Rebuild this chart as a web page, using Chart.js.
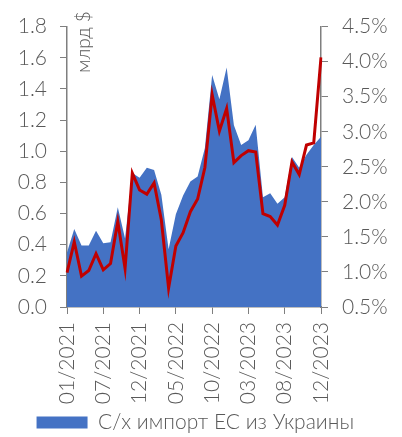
<!DOCTYPE html>
<html>
<head>
<meta charset="utf-8">
<script src="https://cdn.jsdelivr.net/npm/chart.js@4.4.1/dist/chart.umd.min.js"></script>
<style>
  body { margin: 0; background: #fff; }
  #wrap { width: 402px; height: 437px; }
</style>
</head>
<body>
<div id="wrap"><canvas id="chart" width="402" height="437"></canvas></div>
<script>
const months = [
  "01/2021", "02/2021", "03/2021", "04/2021", "05/2021", "06/2021",
  "07/2021", "08/2021", "09/2021", "10/2021", "11/2021", "12/2021",
  "01/2022", "02/2022", "03/2022", "04/2022", "05/2022", "06/2022",
  "07/2022", "08/2022", "09/2022", "10/2022", "11/2022", "12/2022",
  "01/2023", "02/2023", "03/2023", "04/2023", "05/2023", "06/2023",
  "07/2023", "08/2023", "09/2023", "10/2023", "11/2023", "12/2023"
];
// labels shown under the axis, every 5th month
const tickLabels = ["01/2021", "07/2021", "12/2021", "05/2022", "10/2022", "03/2023", "08/2023", "12/2023"];

// agri imports of EU from Ukraine, bn $
const importValues = [
  0.35, 0.50, 0.395, 0.395, 0.49, 0.41, 0.415, 0.64, 0.44, 0.86, 0.83, 0.894,
  0.879, 0.72, 0.37, 0.595, 0.715, 0.805, 0.837, 1.02, 1.49, 1.334, 1.537, 1.166,
  1.04, 1.07, 1.17, 0.705, 0.73, 0.663, 0.705, 0.963, 0.894, 0.977, 1.04, 1.093
];
// share, %
const shareValues = [
  0.99, 1.43, 0.94, 1.02, 1.26, 1.03, 1.12, 1.72, 1.05, 2.41, 2.17, 2.11,
  2.27, 1.74, 0.77, 1.37, 1.56, 1.86, 2.04, 2.49, 3.53, 3.01, 3.33, 2.56,
  2.66, 2.73, 2.71, 1.83, 1.79, 1.67, 1.95, 2.57, 2.39, 2.81, 2.84, 4.06
];

const textColor = "#595959";
const axisColor = "#7f7f7f";
const fontFamily = "Lato, 'Noto Sans', sans-serif";

const unitLabel = {
  id: "unitLabel",
  afterDraw(chart) {
    const ctx = chart.ctx;
    ctx.save();
    ctx.translate(84, 42);
    ctx.rotate(-Math.PI / 2);
    ctx.fillStyle = textColor;
    ctx.font = "300 19px " + fontFamily;
    ctx.textAlign = "center";
    ctx.textBaseline = "middle";
    ctx.fillText("млрд $", 0, 0);
    ctx.restore();
  }
};

const tickFont = { family: fontFamily, size: 21, weight: 300 };

const ctx = document.getElementById("chart").getContext("2d");
new Chart(ctx, {
  type: "line",
  data: {
    labels: months,
    datasets: [
      {
        label: "Доля",
        data: shareValues,
        yAxisID: "y1",
        borderColor: "#C00000",
        borderWidth: 3,
        pointRadius: 0,
        fill: false,
        tension: 0,
        order: 0
      },
      {
        label: "С/х импорт ЕС из Украины",
        data: importValues,
        yAxisID: "y",
        backgroundColor: "#4472C4",
        borderColor: "#4472C4",
        borderWidth: 0,
        pointRadius: 0,
        fill: "origin",
        tension: 0,
        order: 1
      }
    ]
  },
  options: {
    responsive: false,
    animation: false,
    layout: { padding: { top: 21, left: 0, right: 0, bottom: -6 } },
    plugins: {
      tooltip: { enabled: false },
      legend: {
        position: "bottom",
        labels: {
          filter: (item) => item.datasetIndex === 1,
          // trailing spaces nudge the centred legend a little to the left
          generateLabels: (chart) => Chart.defaults.plugins.legend.labels.generateLabels(chart)
            .map((l) => Object.assign(l, { text: l.text + "\u00a0\u00a0" })),
          boxWidth: 51,
          boxHeight: 12,
          padding: 0,
          color: textColor,
          font: { family: fontFamily, size: 21, weight: 300 }
        }
      }
    },
    scales: {
      x: {
        offset: false,
        grid: { display: true, drawOnChartArea: false, tickLength: 7, color: axisColor },
        border: { display: true, color: axisColor, width: 1.5 },
        ticks: {
          autoSkip: false,
          minRotation: 90,
          maxRotation: 90,
          padding: 8,
          color: textColor,
          font: tickFont,
          callback: (v, i) => (i % 5 === 0 ? tickLabels[i / 5] : null)
        },
        afterFit: (s) => { s.height = 105; }
      },
      y: {
        position: "left",
        min: 0,
        max: 1.8,
        grid: { display: true, drawOnChartArea: false, tickLength: 7, color: axisColor },
        border: { display: true, color: axisColor, width: 1.5 },
        ticks: {
          stepSize: 0.2,
          padding: 13,
          color: textColor,
          font: tickFont,
          callback: (v) => v.toFixed(1)
        },
        afterFit: (s) => { s.width = 67; }
      },
      y1: {
        position: "right",
        min: 0.5,
        max: 4.5,
        grid: { display: true, drawOnChartArea: false, tickLength: 7, color: axisColor },
        border: { display: true, color: axisColor, width: 1.5 },
        ticks: {
          stepSize: 0.5,
          padding: 14,
          color: textColor,
          font: tickFont,
          callback: (v) => v.toFixed(1) + "%"
        },
        afterFit: (s) => { s.width = 81; }
      }
    }
  },
  plugins: [unitLabel]
});
</script>
</body>
</html>
